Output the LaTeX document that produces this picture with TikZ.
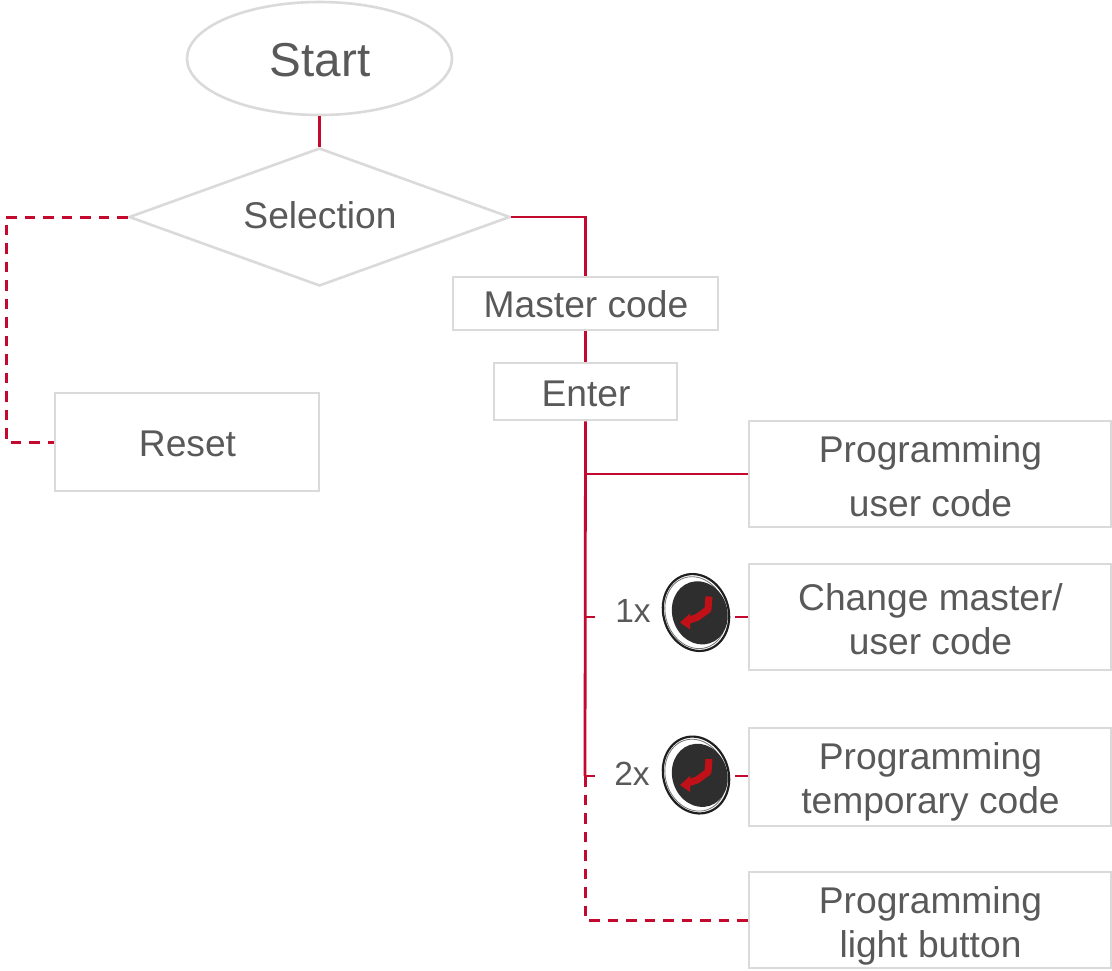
\documentclass[tikz,border=0pt]{standalone}
\usepackage{fontspec}
\setmainfont{Liberation Sans}
\usetikzlibrary{shapes.geometric}
\definecolor{boxgray}{HTML}{DADADA}
\definecolor{txtgray}{HTML}{595959}
\definecolor{linered}{HTML}{C4092F}
\definecolor{arrowred}{HTML}{C01018}
\newcommand{\enterbtn}[2]{%
  \begin{scope}[shift={(#1,#2)}]
    \fill[white,rotate=18] (0,0) ellipse [x radius=34,y radius=40];
    \draw[black!88,line width=2.2pt,rotate=18] (0,0) ellipse [x radius=32.5,y radius=39];
    \draw[black!55,line width=.8pt,rotate=18] (-.5,0) ellipse [x radius=30,y radius=36.5];
    \fill[black!82,rotate=18] (3.5,1.5) ellipse [x radius=27.5,y radius=32];
    \draw[arrowred,line width=7pt,line join=round] (13,-16) -- (12,-3) -- (1,5) -- (-8,8);
    \fill[arrowred] (-16,10) -- (-6,1) -- (-6,17) -- cycle;
  \end{scope}}
\tikzset{
  shapeline/.style={draw=boxgray,line width=2.6pt,inner sep=0pt},
  boxnode/.style={shapeline,rectangle,minimum width=#1},
  tl/.style={text=txtgray,inner sep=0pt,align=center,xshift=.5pt,font=\fontsize{37.2}{44}\selectfont},
  wire/.style={draw=linered,line width=2.8pt},
  dashwire/.style={draw=linered,line width=3pt,dash pattern=on 10.5pt off 8pt},
  plain/.style={text=txtgray,inner sep=0pt,font=\fontsize{33.5}{40}\selectfont}
}
\begin{document}
\begin{tikzpicture}[x=1pt,y=-1pt]
\useasboundingbox (0,0) rectangle (1112,970);
\coordinate (leftTop) at (6,217);
\coordinate (leftBot) at (6,442);
\coordinate (jUser) at (585,474);
\coordinate (j1) at (585,617);
\coordinate (t1) at (595,617);
\coordinate (j2) at (585,776);
\coordinate (t2) at (595,776);
\coordinate (jLight) at (585,920);
\coordinate (b1r) at (735,617);
\coordinate (b2r) at (735,776);

\node[shapeline,ellipse,minimum width=265pt,minimum height=113pt,
  label={[tl,font=\fontsize{47.6}{54}\selectfont,yshift=-2pt]center:Start}] (start) at (319.5,58.5) {};
\node[shapeline,diamond,aspect=2.76,minimum width=381pt,minimum height=138pt,
  label={[tl,yshift=2pt]center:Selection}] (sel) at (319.5,217) {};
\node[boxnode=265pt,minimum height=53pt,label={[tl,yshift=-1pt]center:Master code}] (master) at (585.5,303.5) {};
\node[boxnode=183pt,minimum height=57pt,label={[tl,yshift=-2pt]center:Enter}] (enter) at (585.5,391.5) {};
\node[boxnode=264pt,minimum height=98pt,label={[tl,yshift=-2pt]center:Reset}] (reset) at (187,442) {};
\node[boxnode=362pt,minimum height=106pt,label={[tl,yshift=-2pt]center:{Programming\\[10pt]user code}}] (puser) at (930,474) {};
\node[boxnode=362pt,minimum height=106pt,label={[tl,yshift=-2pt]center:{Change master/\\user code}}] (chg) at (930,617) {};
\node[boxnode=362pt,minimum height=98pt,label={[tl,yshift=-5pt]center:{Programming\\temporary code}}] (ptemp) at (930,777) {};
\node[boxnode=362pt,minimum height=96pt,label={[tl,yshift=-6pt]center:{Programming\\light button}}] (plight) at (930,920) {};
\node[plain] (n1) at (633,611) {1x};
\node[plain] (n2) at (632,774) {2x};

\enterbtn{696}{612.5}
\enterbtn{696}{775}

\draw[wire] (start.south) -- (sel.north);
\draw[wire] (sel.east) -| (master.north);
\draw[wire] (master.south) -- (enter.north);
\draw[wire] (enter.south) -- (j2);
\draw[wire] (jUser) -- (puser.west);
\draw[wire] (j1) -- (t1);
\draw[wire] (j2) -- (t2);
\draw[wire] (b1r) -- (chg.west);
\draw[wire] (b2r) -- (ptemp.west |- b2r);
\draw[dashwire] (j2) -- (jLight) -- (plight.west);
\draw[dashwire] (sel.west) -- (leftTop) -- (leftBot) -- (reset.west);
\end{tikzpicture}
\end{document}
